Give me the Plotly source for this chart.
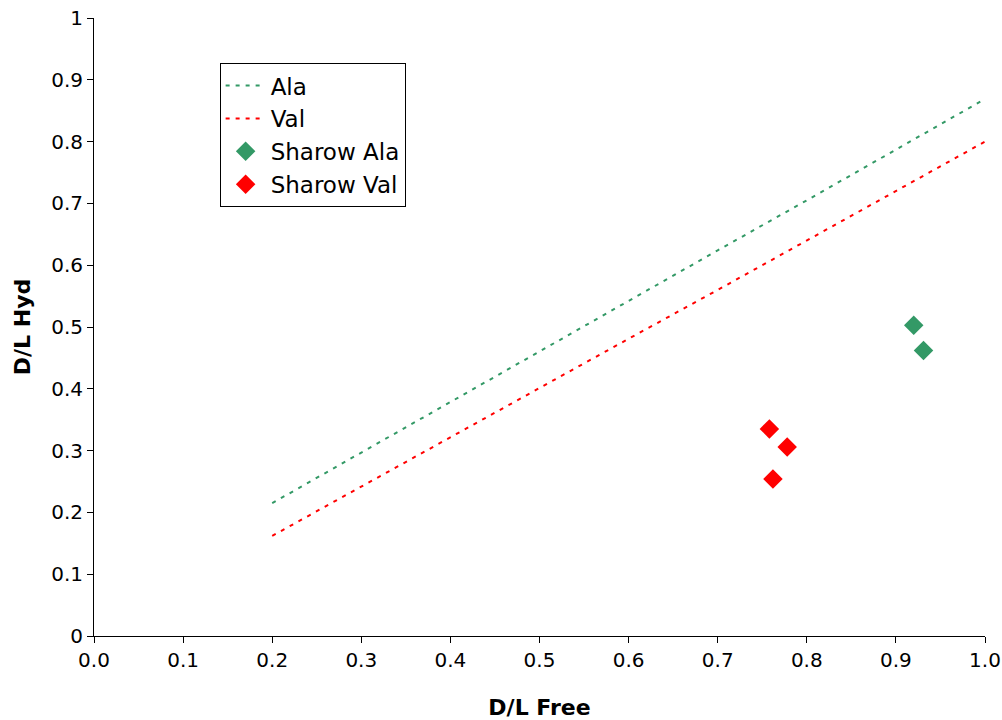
import plotly.graph_objects as go

line_x = [0.2, 0.3, 0.4, 0.5, 0.6, 0.7, 0.8, 0.9, 1.0]
ala_line = [0.215, 0.297, 0.378, 0.460, 0.542, 0.624, 0.705, 0.787, 0.869]
val_line = [0.162, 0.242, 0.321, 0.401, 0.481, 0.560, 0.640, 0.720, 0.800]

sharow_ala_x = [0.920, 0.931]
sharow_ala_y = [0.503, 0.462]
sharow_val_x = [0.758, 0.778, 0.762]
sharow_val_y = [0.335, 0.306, 0.254]

x_ticks = [0.0, 0.1, 0.2, 0.3, 0.4, 0.5, 0.6, 0.7, 0.8, 0.9, 1.0]
y_ticks = [0, 0.1, 0.2, 0.3, 0.4, 0.5, 0.6, 0.7, 0.8, 0.9, 1]

GREEN = "#339966"
RED = "#FF0000"

fig = go.Figure()
fig.add_trace(go.Scatter(x=line_x, y=ala_line, mode="lines", name="Ala",
                         line=dict(color=GREEN, width=2, dash="4px,6px")))
fig.add_trace(go.Scatter(x=line_x, y=val_line, mode="lines", name="Val",
                         line=dict(color=RED, width=2, dash="4px,6px")))
fig.add_trace(go.Scatter(x=sharow_ala_x, y=sharow_ala_y, mode="markers", name="Sharow Ala",
                         marker=dict(symbol="diamond", color=GREEN, size=15)))
fig.add_trace(go.Scatter(x=sharow_val_x, y=sharow_val_y, mode="markers", name="Sharow Val",
                         marker=dict(symbol="diamond", color=RED, size=15)))

fig.update_layout(
    width=1002, height=720,
    margin=dict(l=94, r=17, t=18, b=84),
    paper_bgcolor="white", plot_bgcolor="white",
    font=dict(family="DejaVu Sans, Liberation Sans, Arial", size=20, color="black"),
    showlegend=True,
    legend=dict(x=0.141, y=0.927, xanchor="left", yanchor="top",
                bgcolor="white", bordercolor="black", borderwidth=1,
                font=dict(size=23), tracegroupgap=0, itemwidth=40),
    xaxis=dict(range=[0, 1.0], tickvals=x_ticks, ticktext=[f"{v:.1f}" for v in x_ticks],
               showgrid=False, zeroline=False, showline=True, linecolor="black", linewidth=1,
               ticks="outside", ticklen=6, tickcolor="black", automargin=False,
               ticklabeloverflow="allow",
               title=dict(text="<b>D/L Free</b>", font=dict(size=22), standoff=29)),
    yaxis=dict(range=[0, 1], tickvals=y_ticks, ticktext=["0", "0.1", "0.2", "0.3", "0.4", "0.5", "0.6", "0.7", "0.8", "0.9", "1"],
               showgrid=False, zeroline=False, showline=True, linecolor="black", linewidth=1,
               ticks="outside", ticklen=6, tickcolor="black", automargin=False,
               ticklabeloverflow="allow",
               title=dict(text="<b>D/L Hyd</b>", font=dict(size=22), standoff=14)),
)

fig.write_html("out.html", config={"displayModeBar": False},
               post_script="document.body.style.margin='0px';")
